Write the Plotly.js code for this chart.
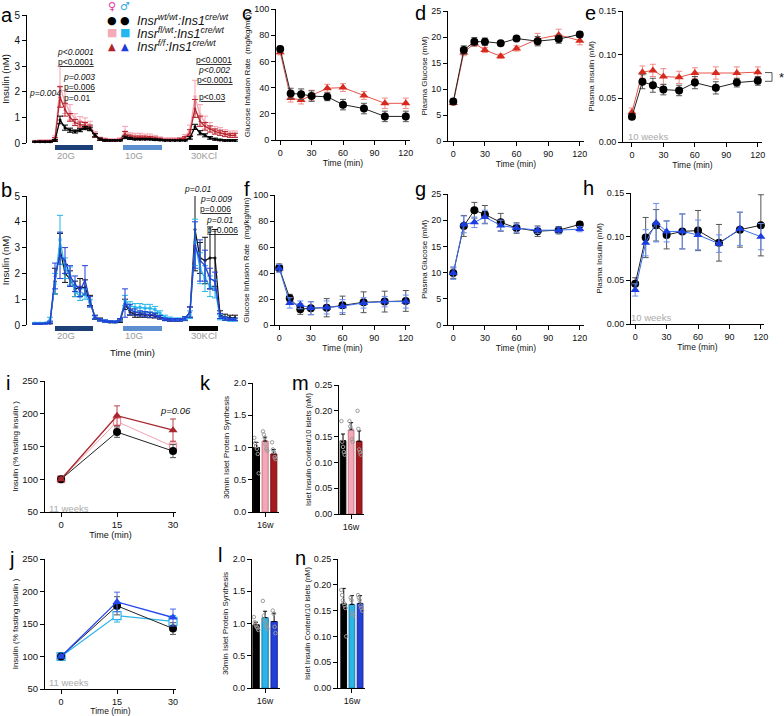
<!DOCTYPE html>
<html>
<head>
<meta charset="utf-8">
<script src="https://cdn.plot.ly/plotly-3.0.1.min.js"></script>
<style>html,body{margin:0;padding:0;background:#fff}#plot{width:784px;height:716px}</style>
</head>
<body>
<div id="plot"></div>
<script>
// perifusion, sampled every 2.5 min
const periTime = [0,2.5,5,7.5,10,12.5,15,17.5,20,22.5,25,27.5,30,32.5,35,37.5,40,42.5,45,47.5,50,52.5,55,57.5,60,62.5,65,67.5,70,72.5,75,77.5,80,82.5,85,87.5,90,92.5,95,97.5,100];
const stimNames = ['20G', '10G', '30KCl'];
const stimStart = [10, 44, 77];
const stimEnd = [29, 63.5, 91.5];

// a: female
const aWt = [0.05,0.05,0.05,0.05,0.1,0.9,0.6,0.5,0.45,0.5, 0.58,0.55,0.3,0.15,0.1,0.1,0.1,0.1,0.22,0.18, 0.15,0.15,0.15,0.15,0.13,0.12,0.1,0.1,0.1,0.1, 0.1,0.2,0.63,0.4,0.3,0.2,0.15,0.12,0.1,0.1, 0.1];
const aWtErr = [0.02,0.02,0.02,0.02,0.04,0.15,0.1,0.08,0.06,0.06, 0.06,0.07,0.06,0.04,0.03,0.02,0.02,0.02,0.05,0.04, 0.03,0.03,0.03,0.03,0.03,0.03,0.02,0.02,0.02,0.02, 0.02,0.05,0.1,0.08,0.06,0.05,0.04,0.03,0.03,0.03, 0.03];
const aHet = [0.06,0.08,0.08,0.08,0.2,2.2,1.6,1.2,0.95,0.85, 0.8,0.7,0.35,0.18,0.15,0.12,0.12,0.15,0.45,0.3, 0.28,0.28,0.25,0.25,0.22,0.18,0.15,0.15,0.15,0.15, 0.25,0.5,1.8,1.1,0.8,0.6,0.5,0.45,0.4,0.35, 0.35];
const aHetErr = [0.03,0.04,0.04,0.04,0.08,0.8,0.45,0.3,0.2,0.18, 0.18,0.15,0.1,0.05,0.04,0.04,0.04,0.05,0.2,0.1, 0.1,0.1,0.1,0.1,0.08,0.06,0.05,0.05,0.05,0.05, 0.08,0.2,0.65,0.4,0.25,0.2,0.15,0.15,0.12,0.12, 0.12];
const aKo = [0.05,0.06,0.06,0.07,0.15,1.8,1.3,1.0,0.8,0.72, 0.7,0.6,0.3,0.15,0.12,0.1,0.1,0.12,0.35,0.25, 0.22,0.22,0.22,0.2,0.18,0.15,0.12,0.12,0.12,0.15, 0.2,0.4,1.35,0.85,0.65,0.55,0.45,0.4,0.35,0.3, 0.3];
const aKoErr = [0.02,0.03,0.03,0.03,0.06,0.4,0.25,0.15,0.12,0.1, 0.1,0.1,0.08,0.05,0.04,0.03,0.03,0.03,0.1,0.06, 0.05,0.05,0.05,0.05,0.05,0.04,0.03,0.03,0.03,0.04, 0.05,0.12,0.35,0.2,0.15,0.12,0.1,0.1,0.1,0.08, 0.08];

// b: male
const bWt = [0.06,0.06,0.07,0.08,1.7,2.95,2.0,1.8,1.4,1.45, 1.45,0.95,0.3,0.22,0.15,0.12,0.12,0.15,0.8,0.5, 0.4,0.4,0.4,0.38,0.35,0.3,0.22,0.2,0.2,0.2, 0.25,0.5,3.7,2.6,2.5,2.6,2.6,0.4,0.3,0.28, 0.28];
const bWtErr = [0.02,0.02,0.02,0.03,0.5,0.6,0.35,0.3,0.3,0.35, 0.3,0.2,0.08,0.05,0.04,0.03,0.03,0.05,0.2,0.12, 0.1,0.1,0.1,0.1,0.08,0.07,0.05,0.05,0.05,0.05, 0.08,0.2,1.6,0.6,0.9,1.2,1.1,0.15,0.12,0.1, 0.1];
const bHet = [0.07,0.07,0.07,0.2,1.6,3.3,2.2,1.9,1.3,1.1, 1.2,0.85,0.3,0.2,0.15,0.13,0.12,0.2,0.95,0.75, 0.68,0.68,0.65,0.65,0.6,0.45,0.3,0.25,0.22,0.22, 0.25,0.4,3.2,2.2,1.8,1.5,1.4,0.3,0.25,0.2, 0.2];
const bHetErr = [0.02,0.02,0.02,0.1,0.4,0.95,0.4,0.35,0.2,0.15, 0.2,0.15,0.06,0.05,0.04,0.03,0.03,0.05,0.2,0.15, 0.15,0.15,0.15,0.15,0.12,0.1,0.08,0.06,0.05,0.05, 0.06,0.15,0.9,0.6,0.5,0.4,0.35,0.1,0.06,0.05, 0.05];
const bKo = [0.05,0.05,0.06,0.1,1.9,2.7,2.5,1.9,1.6,1.3, 1.75,0.9,0.3,0.2,0.15,0.13,0.12,0.2,0.85,0.6, 0.5,0.45,0.42,0.4,0.38,0.3,0.22,0.2,0.2,0.2, 0.25,0.5,3.1,2.5,2.3,1.8,1.7,0.35,0.25,0.22, 0.22];
const bKoErr = [0.02,0.02,0.02,0.05,0.5,0.9,0.5,0.4,0.3,0.2, 0.55,0.2,0.06,0.05,0.04,0.03,0.03,0.05,0.55,0.2, 0.12,0.1,0.1,0.1,0.08,0.07,0.05,0.05,0.05,0.05, 0.06,0.2,0.9,0.8,0.6,0.4,0.35,0.1,0.06,0.05, 0.05];

// c-h: clamp
const clampTime = [0, 10, 20, 30, 45, 60, 80, 100, 120];
const cWt = [69.5, 35.5, 35, 33.5, 33, 27, 24, 18, 18];
const cWtErr = [2, 4, 4, 4, 3, 4, 4, 4, 4];
const cKo = [67, 32, 30.5, 34, 39.5, 40, 34, 28, 28];
const cKoErr = [2, 3, 3, 4, 3, 3, 3, 4, 4];
const dWt = [7.6, 17.5, 19.1, 19.1, 18.8, 19.7, 19.2, 19.6, 20.5];
const dWtErr = [0.5, 0.8, 0.8, 0.7, 0.4, 0.4, 0.9, 0.8, 0.5];
const dKo = [7.3, 17.0, 18.8, 17.5, 16.3, 17.8, 19.6, 20.4, 19.3];
const dKoErr = [0.4, 0.6, 0.6, 0.5, 0.4, 0.5, 1.1, 1.1, 0.8];
const eWt = [0.029, 0.069, 0.065, 0.060, 0.059, 0.068, 0.062, 0.068, 0.070];
const eWtErr = [0.003, 0.008, 0.008, 0.006, 0.006, 0.007, 0.007, 0.005, 0.005];
const eKo = [0.034, 0.080, 0.082, 0.075, 0.074, 0.079, 0.079, 0.079, 0.080];
const eKoErr = [0.005, 0.007, 0.007, 0.009, 0.007, 0.006, 0.007, 0.007, 0.006];
const fWt = [44, 20.6, 12.2, 12.9, 13.3, 15.2, 17.5, 18, 18.5];
const fWtErr = [3, 3, 4, 5, 7, 7, 8, 8, 8];
const fKo = [43.5, 17, 15.5, 13, 13.5, 14.5, 17, 18, 18];
const fKoErr = [3, 4, 3, 5, 5, 5, 4, 4, 5];
const gWt = [9.9, 18.9, 21.9, 21.1, 19.6, 18.5, 17.9, 18.1, 19.2];
const gWtErr = [1, 2, 1.5, 1.7, 1.7, 1, 1, 0.7, 0.5];
const gKo = [9.9, 19.2, 19.6, 20.6, 19.0, 18.5, 18.1, 18.1, 18.3];
const gKoErr = [1.2, 1.6, 1, 1.3, 1, 0.8, 0.6, 0.6, 0.5];
const hWt = [0.046, 0.099, 0.113, 0.102, 0.106, 0.107, 0.093, 0.108, 0.113];
const hWtErr = [0.007, 0.023, 0.018, 0.016, 0.02, 0.023, 0.021, 0.02, 0.035];
const hKo = [0.039, 0.093, 0.116, 0.106, 0.106, 0.102, 0.092, 0.109, 0.100];
const hKoErr = [0.007, 0.015, 0.022, 0.012, 0.02, 0.017, 0.01, 0.019, 0.015];

// i, j: % fasting insulin
const ogttTime = [0, 15, 30];
const iWt = [100, 172, 143], iWtErr = [2, 8, 10];
const iHet = [100, 188, 150], iHetErr = [2, 10, 8];
const iKo = [100, 197, 175], iKoErr = [2, 15, 17];
const jWt = [100, 178, 143], jWtErr = [2, 14, 9];
const jHet = [100, 163, 154], jHetErr = [2, 10, 9];
const jKo = [100, 184, 160], jKoErr = [2, 15, 13];

// k-n: bars (wt, fl/wt, f/f) plus single islet preps
const kMean = [1.0, 1.1, 0.9], kErr = [0.08, 0.06, 0.07];
const kDots = [[1.15, 1.07, 1.02, 0.98, 0.9, 0.6], [1.25, 1.2, 1.15, 1.05, 0.98, 0.95], [1.08, 0.97, 0.93, 0.85, 0.82]];
const mMean = [0.142, 0.163, 0.141], mErr = [0.013, 0.014, 0.02];
const mDots = [[0.18, 0.14, 0.13, 0.12, 0.115], [0.18, 0.17, 0.165, 0.145, 0.14], [0.2, 0.165, 0.125, 0.12, 0.115]];
const lMean = [0.98, 1.09, 1.03], lErr = [0.04, 0.1, 0.13];
const lDots = [[1.1, 1.02, 0.98, 0.95, 0.93, 0.9], [1.35, 1.12, 1.05, 1.0, 0.95, 0.92], [1.2, 1.15, 0.95, 0.85]];
const nMean = [0.163, 0.162, 0.164], nErr = [0.03, 0.017, 0.015];
const nDots = [[0.19, 0.18, 0.17, 0.165, 0.16, 0.155, 0.1], [0.175, 0.17, 0.145, 0.14], [0.18, 0.175, 0.17, 0.16, 0.155, 0.15]];

const W = 784, H = 716;
const FONT = 'Liberation Sans, Arial, sans-serif';
const px = (a, b) => [a / W, b / W];
const py = (top, bottom) => [1 - bottom / H, 1 - top / H];
const ax = n => (n === 1 ? '' : String(n));

const WT = { line: '#222', marker: '#000', err: '#555', symbol: 'circle', size: 8 };
const KO_F = { line: '#e8544a', marker: '#d62a1e', err: '#ee8c86', symbol: 'triangle-up', size: 8 };
const KO_M = { line: '#3a6df0', marker: '#1b3de0', err: '#6a8ef2', symbol: 'triangle-up', size: 8 };

function series(n, x, y, err, s) {
  return {
    type: 'scatter', mode: 'lines+markers', x, y,
    xaxis: 'x' + ax(n), yaxis: 'y' + ax(n),
    line: { color: s.line, width: s.width || 1 },
    marker: {
      symbol: s.symbol, size: s.size, color: s.open ? '#fff' : s.marker,
      line: { width: s.open ? 1.2 : 0, color: s.marker }
    },
    error_y: { type: 'data', array: err, color: s.err, thickness: 1, width: 3 },
    cliponaxis: false, hoverinfo: 'skip'
  };
}

function bars(n, mean, err, dotsBy, colors, edges) {
  const x = [0, 1, 2];
  const bar = {
    type: 'bar', x, y: mean, width: 0.7, xaxis: 'x' + ax(n), yaxis: 'y' + ax(n),
    marker: { color: colors, line: { color: edges, width: 1 } },
    error_y: { type: 'data', array: err, arrayminus: [0, 0, 0], symmetric: false, color: '#000', thickness: 1, width: 2 },
    hoverinfo: 'skip'
  };
  const dots = dotsBy.map((vals, g) => ({
    type: 'scatter', mode: 'markers', xaxis: 'x' + ax(n), yaxis: 'y' + ax(n),
    x: vals.map((_, i) => g + (i - (vals.length - 1) / 2) * 0.1),
    y: vals,
    marker: { symbol: 'circle-open', size: 3.5, color: '#9a9a9a', line: { width: 1 } },
    cliponaxis: false, hoverinfo: 'skip'
  }));
  return [bar, ...dots];
}

const peri = (c, m) => ({ line: c, marker: c, err: c, symbol: m, size: 3, width: 1.3 });

const traces = [
  series(1, periTime, aHet, aHetErr, peri('#f5a3b2', 'square')),
  series(1, periTime, aKo, aKoErr, peri('#b5262d', 'triangle-up')),
  series(1, periTime, aWt, aWtErr, peri('#000', 'circle')),
  series(2, periTime, bWt, bWtErr, peri('#111', 'circle')),
  series(2, periTime, bHet, bHetErr, peri('#29b6ea', 'square')),
  series(2, periTime, bKo, bKoErr, peri('#2340d8', 'triangle-up')),
  series(3, clampTime, cKo, cKoErr, KO_F),
  series(3, clampTime, cWt, cWtErr, WT),
  series(4, clampTime, dKo, dKoErr, KO_F),
  series(4, clampTime, dWt, dWtErr, WT),
  series(5, clampTime, eKo, eKoErr, KO_F),
  series(5, clampTime, eWt, eWtErr, WT),
  series(6, clampTime, fWt, fWtErr, WT),
  series(6, clampTime, fKo, fKoErr, KO_M),
  series(7, clampTime, gWt, gWtErr, WT),
  series(7, clampTime, gKo, gKoErr, KO_M),
  series(8, clampTime, hWt, hWtErr, WT),
  series(8, clampTime, hKo, hKoErr, KO_M),
  series(9, ogttTime, iHet, iHetErr, { line: '#f5a3b2', marker: '#f08a9c', err: '#f5a3b2', symbol: 'square', size: 7, open: true }),
  series(9, ogttTime, iWt, iWtErr, WT),
  series(9, ogttTime, iKo, iKoErr, { line: '#a8262c', marker: '#a8262c', err: '#b8454a', symbol: 'triangle-up', size: 8, width: 1.3 }),
  series(10, ogttTime, jHet, jHetErr, { line: '#2cb3ea', marker: '#2cb3ea', err: '#2cb3ea', symbol: 'square', size: 8, open: true, width: 1.3 }),
  series(10, ogttTime, jWt, jWtErr, WT),
  series(10, ogttTime, jKo, jKoErr, { line: '#2447f0', marker: '#2447f0', err: '#4a6af0', symbol: 'triangle-up', size: 8, width: 1.3 }),
  ...bars(11, kMean, kErr, kDots, ['#000', '#f4a7b5', '#a51a1f'], ['#000', '#c87888', '#7a1015']),
  ...bars(12, mMean, mErr, mDots, ['#000', '#f4a7b5', '#a51a1f'], ['#000', '#c87888', '#7a1015']),
  ...bars(13, lMean, lErr, lDots, ['#000', '#2ab4e8', '#2340d8'], ['#000', '#1a7fae', '#15279a']),
  ...bars(14, nMean, nErr, nDots, ['#000', '#2ab4e8', '#2340d8'], ['#000', '#1a7fae', '#15279a'])
];

const base = (o) => Object.assign({
  showline: true, linecolor: '#000', linewidth: 1, ticks: 'outside', ticklen: 4, tickwidth: 1,
  tickcolor: '#000', showgrid: false, zeroline: false, fixedrange: true,
  tickfont: { size: 9, color: '#111', family: FONT }
}, o);
const ttl = (text, size = 8, standoff = 2) => ({ text, standoff, font: { size, family: FONT, color: '#111' } });

const layout = {
  width: W, height: H, margin: { l: 0, r: 0, t: 0, b: 0 },
  paper_bgcolor: '#fff', plot_bgcolor: 'rgba(0,0,0,0)', showlegend: false,
  font: { family: FONT, size: 9, color: '#111' }, bargap: 0,
  // a, b
  xaxis: base({ domain: px(27, 238), range: [-4, 101.5], showline: false, ticks: '', showticklabels: false, anchor: 'y' }),
  yaxis: base({ domain: py(15, 143), range: [0, 5], dtick: 1, anchor: 'x', tickfont: { size: 10 }, title: ttl('Insulin (nM)', 9.5, 3) }),
  xaxis2: base({ domain: px(27, 238), range: [-4, 101.5], showline: false, ticks: '', showticklabels: false, anchor: 'y2', title: ttl('Time (min)', 9.5, 24) }),
  yaxis2: base({ domain: py(196, 325), range: [0, 5], dtick: 1, anchor: 'x2', tickfont: { size: 10 }, title: ttl('Insulin (nM)', 9.5, 3) }),
  // c, d, e
  xaxis3: base({ domain: px(276, 410), range: [-4, 124], tickvals: [0, 30, 60, 90, 120], anchor: 'y3', title: ttl('Time (min)', 8.5) }),
  yaxis3: base({ domain: py(9, 140), range: [0, 100], dtick: 20, anchor: 'x3', title: ttl('Glucose Infusion Rate  (mg/kg/min)') }),
  xaxis4: base({ domain: px(448, 584), range: [-5, 124], tickvals: [0, 30, 60, 90, 120], anchor: 'y4', title: ttl('Time (min)', 8.5) }),
  yaxis4: base({ domain: py(11, 141), range: [0, 25], dtick: 5, anchor: 'x4', title: ttl('Plasma Glucose (mM)') }),
  xaxis5: base({ domain: px(623, 762), range: [-8.5, 124], tickvals: [0, 30, 60, 90, 120], anchor: 'y5', title: ttl('Time (min)', 8.5) }),
  yaxis5: base({ domain: py(11, 142), range: [0, 0.15], dtick: 0.05, tickformat: '.2f', anchor: 'x5', title: ttl('Plasma Insulin (nM)') }),
  // f, g, h
  xaxis6: base({ domain: px(275, 410), range: [-4, 124], tickvals: [0, 30, 60, 90, 120], anchor: 'y6', title: ttl('Time (min)', 8.5) }),
  yaxis6: base({ domain: py(195, 325), range: [0, 100], dtick: 20, anchor: 'x6', title: ttl('Glucose Infusion Rate  (mg/kg/min)') }),
  xaxis7: base({ domain: px(448, 584), range: [-5, 124], tickvals: [0, 30, 60, 90, 120], anchor: 'y7', title: ttl('Time (min)', 8.5) }),
  yaxis7: base({ domain: py(194, 325), range: [0, 25], dtick: 5, anchor: 'x7', title: ttl('Plasma Glucose (mM)') }),
  xaxis8: base({ domain: px(631, 764), range: [-4, 123], tickvals: [0, 30, 60, 90, 120], anchor: 'y8', title: ttl('Time (min)', 8.5) }),
  yaxis8: base({ domain: py(193, 324), range: [0, 0.15], dtick: 0.05, tickformat: '.2f', anchor: 'x8', title: ttl('Plasma Insulin (nM)') }),
  // i, j
  xaxis9: base({ domain: px(45, 176), range: [-4.3, 30.8], tickvals: [0, 15, 30], anchor: 'y9', tickfont: { size: 9.5 }, title: ttl('Time (min)', 9, 1) }),
  yaxis9: base({ domain: py(381, 512), range: [50, 250], dtick: 50, anchor: 'x9', tickfont: { size: 9.5 }, title: ttl('Insulin (% fasting insulin )') }),
  xaxis10: base({ domain: px(45, 176), range: [-4.3, 30.8], tickvals: [0, 15, 30], anchor: 'y10', tickfont: { size: 9 }, title: ttl('Time (min)', 8.5, 0) }),
  yaxis10: base({ domain: py(559, 689), range: [50, 250], dtick: 50, anchor: 'x10', tickfont: { size: 9.5 }, title: ttl('Insulin (% fasting insulin )') }),
  // k, m, l, n
  xaxis11: base({ domain: px(253, 279), range: [-0.4, 2.6], tickvals: [1], ticktext: ['16w'], anchor: 'y11' }),
  yaxis11: base({ domain: py(383, 512), range: [0, 2], dtick: 0.5, tickformat: '.1f', anchor: 'x11', title: ttl('30min Islet Protein Synthesis') }),
  xaxis12: base({ domain: px(339, 364), range: [-0.5, 2.6], tickvals: [1], ticktext: ['16w'], anchor: 'y12' }),
  yaxis12: base({ domain: py(385, 514), range: [0, 0.25], dtick: 0.05, tickformat: '.2f', anchor: 'x12', title: ttl('Islet Insulin Content/10 islets (nM)', 7.5) }),
  xaxis13: base({ domain: px(252, 280), range: [-0.45, 2.65], tickvals: [1], ticktext: ['16w'], anchor: 'y13' }),
  yaxis13: base({ domain: py(559, 688), range: [0, 2], dtick: 0.5, tickformat: '.1f', anchor: 'x13', title: ttl('30min Islet Protein Synthesis') }),
  xaxis14: base({ domain: px(338, 365), range: [-0.7, 2.6], tickvals: [1], ticktext: ['16w'], anchor: 'y14' }),
  yaxis14: base({ domain: py(559, 688), range: [0, 0.25], dtick: 0.05, tickformat: '.2f', anchor: 'x14', title: ttl('Islet Insulin Content/10 islets (nM)', 7.5) }),
  shapes: [],
  annotations: []
};

// paper-pixel text helper
const note = (x, y, text, o = {}) => Object.assign({
  xref: 'paper', yref: 'paper', x: x / W, y: 1 - y / H, text, showarrow: false,
  xanchor: 'center', yanchor: 'middle', font: { size: 8.5, color: '#111', family: FONT }
}, o);
const letter = (x, y, t) => note(x, y, t, { xanchor: 'left', font: { size: 20, color: '#000', family: FONT } });

// stimulus bars under a and b
const stimColors = ['#1d3f78', '#5b8fcf', '#000'];
[[1, 145, 150, 155], [2, 326, 331, 336]].forEach(([n, top, bottom, ly]) => {
  stimNames.forEach((name, i) => {
    layout.shapes.push({
      type: 'rect', xref: 'x' + ax(n), yref: 'paper', x0: stimStart[i], x1: stimEnd[i],
      y0: 1 - bottom / H, y1: 1 - top / H, fillcolor: stimColors[i], line: { width: 0 }
    });
    layout.annotations.push({
      xref: 'x' + ax(n), yref: 'paper', x: stimStart[i], y: 1 - ly / H, text: name, showarrow: false,
      xanchor: 'left', yanchor: 'middle', font: { size: 9.5, color: '#9a9a9a', family: FONT }
    });
  });
});

// bracket + star in e
layout.shapes.push({
  type: 'path', xref: 'paper', yref: 'y5',
  path: `M ${765 / W} 0.0795 L ${772 / W} 0.0795 L ${772 / W} 0.0695 L ${765 / W} 0.0695`,
  line: { color: '#555', width: 1 }
});

const it = s => `<i>${s}</i>`;
const ul = s => `<u>${s}</u>`;
const grey = { size: 9.5, color: '#aaa', family: FONT };
const glyph = (size, color) => ({ font: { size, color, family: 'DejaVu Sans' } });
const legendFont = { xanchor: 'left', font: { size: 12.5, color: '#111', family: FONT } };
layout.annotations.push(
  letter(-1, 15, 'a'), letter(-1, 190, 'b'), letter(240, 13, 'c'), letter(413, 13, 'd'),
  letter(583, 13, 'e'), letter(242, 189, 'f'), letter(413, 189, 'g'), letter(581, 188, 'h'),
  letter(4, 383, 'i'), letter(7, 559, 'j'), letter(198, 383, 'k'), letter(216, 555, 'l'),
  letter(290, 383, 'm'), letter(293, 558, 'n'),
  // a p-values
  note(45, 93, it('p=0.004')),
  note(75, 52, it('p&lt;0.0001')), note(76, 62, ul('p&lt;0.0001')),
  note(79, 77, it('p=0.003')), note(79, 87, ul('p=0.006')), note(77, 98, 'p=0.01'),
  note(214, 60, ul('p&lt;0.0001')), note(214, 70, it('p&lt;0.002')),
  note(215, 80, ul('p&lt;0.0001')), note(212, 97, ul('p&lt;0.03')),
  // b p-values
  note(198, 189, it('p=0.01')), note(216, 199, it('p=0.009')), note(216, 209, ul('p=0.006')),
  note(220, 220, it('p=0.01')), note(222, 230, ul('p=0.006')),
  // e star, weeks
  note(781, 78, '*', { font: { size: 13, color: '#111', family: FONT } }),
  note(648, 136, '10 weeks', { font: grey }),
  note(651, 318, '10 weeks', { font: grey }),
  note(69, 508, '11 weeks', { font: grey }),
  note(69, 682, '11 weeks', { font: grey }),
  note(175, 410, it('p=0.06'), { font: { size: 9.5, color: '#111', family: FONT } }),
  // legend
  note(112, 7, '♀', glyph(11, '#e0409a')),
  note(125, 7, '♂', glyph(11, '#34a7e0')),
  note(112, 20, '●', glyph(11, '#000')),
  note(125, 20, '●', glyph(11, '#000')),
  note(112, 33, '■', glyph(11, '#f5aab8')),
  note(125, 33, '■', glyph(11, '#22b8ee')),
  note(112, 46, '▲', glyph(10, '#b0222a')),
  note(125, 46, '▲', glyph(10, '#1f3ad8')),
  note(135, 20, it('Insr<sup>wt/wt</sup>:Ins1<sup>cre/wt</sup>'), legendFont),
  note(135, 33, it('Insr<sup>fl/wt</sup>:Ins1<sup>cre/wt</sup>'), legendFont),
  note(135, 46, it('Insr<sup>f/f</sup>:Ins1<sup>cre/wt</sup>'), legendFont)
);

Plotly.newPlot('plot', traces, layout, { staticPlot: true });
</script>
</body>
</html>
